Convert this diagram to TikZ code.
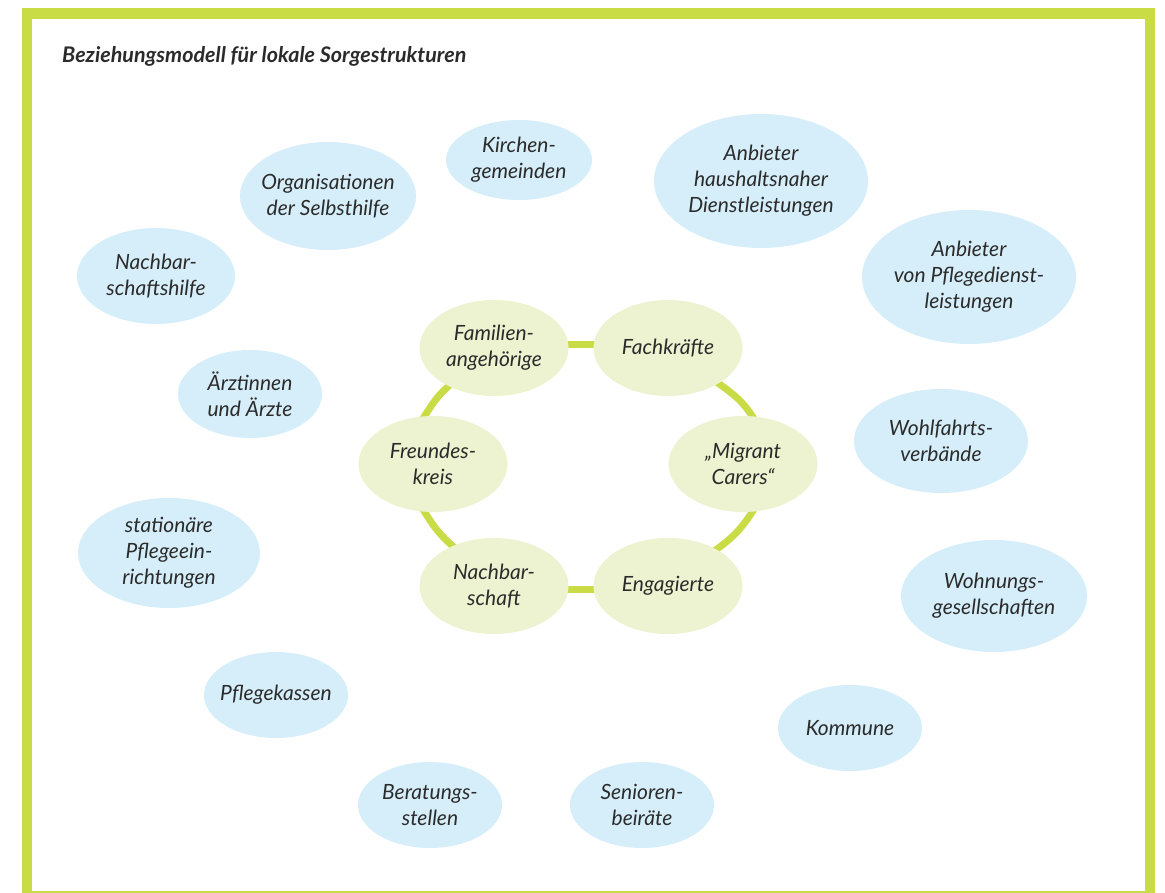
\documentclass[tikz,border=0pt]{standalone}
\usepackage{fontspec}
\setmainfont{Lato}
\usetikzlibrary{shapes.geometric,backgrounds}
\definecolor{lime}{HTML}{C9DC45}
\definecolor{blobblue}{HTML}{D6EEF9}
\definecolor{blobgreen}{HTML}{EDF3D0}
\definecolor{inktext}{HTML}{2B2B2B}
\tikzset{
	blob/.style={ellipse,inner sep=0pt,inner xsep=-14pt,align=center,text=inktext,
		font=\fontsize{21}{26}\selectfont\itshape},
	outer/.style={blob,fill=blobblue},
	inner/.style={blob,fill=blobgreen,minimum width=149pt,minimum height=96pt},
	ring/.style={draw=lime,line width=7pt,shorten <=-3pt,shorten >=-3pt},
}

\begin{document}
\begin{tikzpicture}[x=1pt,y=-1pt]
		\useasboundingbox (0,0) rectangle (1165,893);
		\draw[lime,line width=10.5pt] (27,13.5) rectangle (1150,896);
		\node[anchor=base west,inner sep=0pt,text=inktext,font=\fontsize{21.5}{26}\selectfont\bfseries\itshape] (title) at (62,63) {Beziehungsmodell für lokale Sorgestrukturen};

		\node[outer,minimum width=146pt,minimum height=80pt] (kirche) at (519,160) {Kirchen-\\gemeinden};
		\node[outer,minimum width=176pt,minimum height=108pt] (orga) at (328,196) {Organisationen\\der Selbsthilfe};
		\node[outer,minimum width=214pt,minimum height=134pt] (haushalt) at (761,181) {Anbieter\\haushaltsnaher\\Dienstleistungen};
		\node[outer,minimum width=158pt,minimum height=96pt] (nbhilfe) at (156,276) {Nachbar-\\schaftshilfe};
		\node[outer,minimum width=214pt,minimum height=134pt] (pflegedienst) at (969,277) {Anbieter\\von Pflegedienst-\\leistungen};
		\node[outer,minimum width=144pt,minimum height=88pt] (aerzte) at (250,394) {Ärztinnen\\und Ärzte};
		\node[outer,minimum width=174pt,minimum height=104pt] (wohlfahrt) at (941,441) {Wohlfahrts-\\verbände};
		\node[outer,minimum width=182pt,minimum height=110pt] (stationaer) at (169,553) {stationäre\\Pflegeein-\\richtungen};
		\node[outer,minimum width=186pt,minimum height=112pt] (wohnung) at (994,596) {Wohnungs-\\gesellschaften};
		\node[outer,minimum width=144pt,minimum height=86pt] (kassen) at (276,695) {Pflegekassen};
		\node[outer,minimum width=144pt,minimum height=86pt] (kommune) at (850,728) {Kommune};
		\node[outer,minimum width=144pt,minimum height=86pt] (beratung) at (430,805) {Beratungs-\\stellen};
		\node[outer,minimum width=144pt,minimum height=86pt] (senioren) at (642,805) {Senioren-\\beiräte};

		\node[inner] (familie) at (494,348) {Familien-\\angehörige};
		\node[inner] (fach) at (668,348) {Fachkräfte};
		\node[inner] (freunde) at (433,464) {Freundes-\\kreis};
		\node[inner] (migrant) at (743,464) {„Migrant\\Carers“};
		\node[inner] (nachbar) at (494,586) {Nachbar-\\schaft};
		\node[inner] (engagiert) at (668,586) {Engagierte};

		\begin{scope}[on background layer]
			\draw[ring] (familie.3) -- (fach.177);
			\draw[ring] (fach.-35) to[out=-36,in=122] (migrant.79);
			\draw[ring] (migrant.-79) to[out=-122,in=36] (engagiert.37);
			\draw[ring] (engagiert.183) -- (nachbar.-3);
			\draw[ring] (nachbar.136) to[out=140,in=-58] (freunde.-100);
			\draw[ring] (freunde.100) to[out=57,in=-140] (familie.-140);
		\end{scope}
	\end{tikzpicture}
\end{document}
